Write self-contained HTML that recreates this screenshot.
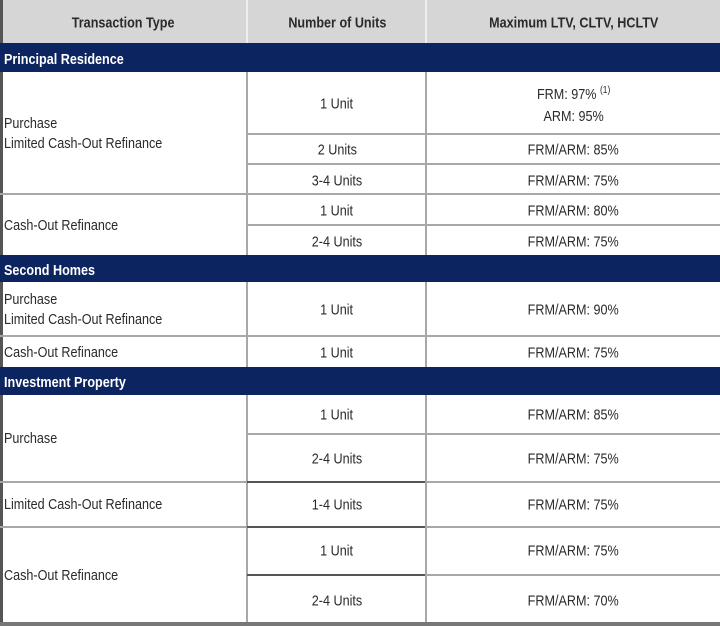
<!DOCTYPE html>
<html><head><meta charset="utf-8"><style>
body{margin:0;width:720px;height:626px;background:#fff;position:relative;overflow:hidden;font-family:"Liberation Sans",sans-serif;font-size:15px;color:#2a2a2a}
.a{position:absolute}
.hl{position:absolute;height:2px;background:#a8a8a8}
.vl{position:absolute;width:2px;background:#a8a8a8}
.nav{position:absolute;left:0;width:720px;background:#0c2460;color:#fff;font-weight:bold;font-size:15px;padding-left:4px;box-sizing:border-box}
.c{position:absolute;text-align:center;transform:translateY(-50%)}
.l{position:absolute;left:4px;transform:translateY(-50%);line-height:20px}
.s{display:inline-block;transform:scaleX(.84);transform-origin:center}
.l .s,.nav .s{transform-origin:left}
</style></head><body>
<div class="a" style="left:0;top:0;width:720px;height:43px;background:#d6d6d6"></div>
<div class="a" style="left:0;top:0;width:3px;height:626px;background:#555"></div>
<div class="a" style="left:0;top:622px;width:720px;height:4px;background:#777"></div>
<div class="c" style="left:0;width:247px;top:23px;font-weight:bold"><span class="s">Transaction Type</span></div>
<div class="c" style="left:247px;width:180px;top:23px;font-weight:bold"><span class="s">Number of Units</span></div>
<div class="c" style="left:427px;width:293px;top:23px;font-weight:bold"><span class="s">Maximum LTV, CLTV, HCLTV</span></div>
<div class="vl" style="left:246px;top:0;height:44px;background:#eee"></div>
<div class="vl" style="left:425px;top:0;height:44px;background:#eee"></div>

<div class="nav" style="top:43px;height:29px;line-height:33px"><span class="s">Principal Residence</span></div>
<div class="nav" style="top:255px;height:27px;line-height:31px"><span class="s">Second Homes</span></div>
<div class="nav" style="top:367px;height:28px;line-height:32px"><span class="s">Investment Property</span></div>

<div class="vl" style="left:246px;top:72px;height:183px"></div>
<div class="vl" style="left:425px;top:72px;height:183px"></div>
<div class="vl" style="left:246px;top:282px;height:85px"></div>
<div class="vl" style="left:425px;top:282px;height:85px"></div>
<div class="vl" style="left:246px;top:395px;height:227px"></div>
<div class="vl" style="left:425px;top:395px;height:227px"></div>

<div class="hl" style="left:247px;width:473px;top:133px"></div>
<div class="hl" style="left:247px;width:473px;top:163px"></div>
<div class="hl" style="left:0;width:720px;top:193px"></div>
<div class="hl" style="left:247px;width:473px;top:224px"></div>
<div class="hl" style="left:0;width:720px;top:335px"></div>
<div class="hl" style="left:247px;width:473px;top:433px"></div>
<div class="hl" style="left:0;width:720px;top:481px"></div>
<div class="hl" style="left:0;width:720px;top:526px"></div>
<div class="hl" style="left:247px;width:473px;top:574px"></div>
<div class="a" style="left:247px;width:178px;top:481px;height:2px;background:#555"></div>
<div class="a" style="left:247px;width:178px;top:526px;height:2px;background:#555"></div>
<div class="a" style="left:247px;width:178px;top:574px;height:2px;background:#555"></div>

<div class="l" style="top:134px"><span class="s">Purchase<br>Limited Cash-Out Refinance</span></div>
<div class="c" style="left:247px;width:180px;top:104px"><span class="s">1 Unit</span></div>
<div class="c" style="left:427px;width:293px;top:104px;line-height:22px"><span class="s">FRM: 97% <sup style="font-size:10px">(1)</sup><br>ARM: 95%</span></div>
<div class="c" style="left:247px;width:180px;top:150px"><span class="s">2 Units</span></div>
<div class="c" style="left:427px;width:293px;top:150px"><span class="s">FRM/ARM: 85%</span></div>
<div class="c" style="left:247px;width:180px;top:181px"><span class="s">3-4 Units</span></div>
<div class="c" style="left:427px;width:293px;top:181px"><span class="s">FRM/ARM: 75%</span></div>
<div class="l" style="top:226px"><span class="s">Cash-Out Refinance</span></div>
<div class="c" style="left:247px;width:180px;top:211px"><span class="s">1 Unit</span></div>
<div class="c" style="left:427px;width:293px;top:211px"><span class="s">FRM/ARM: 80%</span></div>
<div class="c" style="left:247px;width:180px;top:242px"><span class="s">2-4 Units</span></div>
<div class="c" style="left:427px;width:293px;top:242px"><span class="s">FRM/ARM: 75%</span></div>

<div class="l" style="top:310px"><span class="s">Purchase<br>Limited Cash-Out Refinance</span></div>
<div class="c" style="left:247px;width:180px;top:310px"><span class="s">1 Unit</span></div>
<div class="c" style="left:427px;width:293px;top:310px"><span class="s">FRM/ARM: 90%</span></div>
<div class="l" style="top:353px"><span class="s">Cash-Out Refinance</span></div>
<div class="c" style="left:247px;width:180px;top:353px"><span class="s">1 Unit</span></div>
<div class="c" style="left:427px;width:293px;top:353px"><span class="s">FRM/ARM: 75%</span></div>

<div class="l" style="top:439px"><span class="s">Purchase</span></div>
<div class="c" style="left:247px;width:180px;top:415px"><span class="s">1 Unit</span></div>
<div class="c" style="left:427px;width:293px;top:415px"><span class="s">FRM/ARM: 85%</span></div>
<div class="c" style="left:247px;width:180px;top:459px"><span class="s">2-4 Units</span></div>
<div class="c" style="left:427px;width:293px;top:459px"><span class="s">FRM/ARM: 75%</span></div>
<div class="l" style="top:505px"><span class="s">Limited Cash-Out Refinance</span></div>
<div class="c" style="left:247px;width:180px;top:505px"><span class="s">1-4 Units</span></div>
<div class="c" style="left:427px;width:293px;top:505px"><span class="s">FRM/ARM: 75%</span></div>
<div class="l" style="top:576px"><span class="s">Cash-Out Refinance</span></div>
<div class="c" style="left:247px;width:180px;top:551px"><span class="s">1 Unit</span></div>
<div class="c" style="left:427px;width:293px;top:551px"><span class="s">FRM/ARM: 75%</span></div>
<div class="c" style="left:247px;width:180px;top:601px"><span class="s">2-4 Units</span></div>
<div class="c" style="left:427px;width:293px;top:601px"><span class="s">FRM/ARM: 70%</span></div>
</body></html>
